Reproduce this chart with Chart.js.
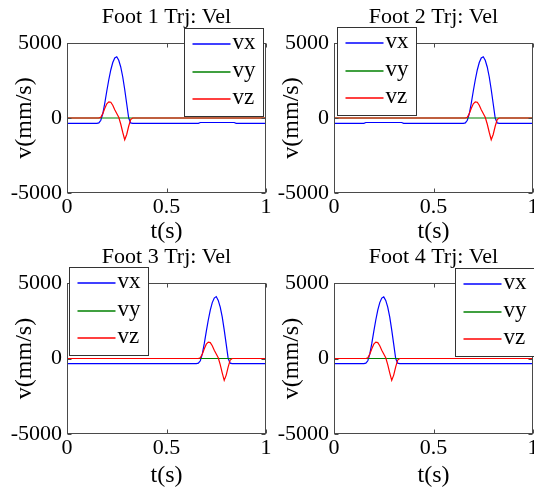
<!doctype html>
<html lang="en">

<head>
    <meta charset="UTF-8" />
    <title>Foot Trj: Vel</title>
    <script src="https://cdn.jsdelivr.net/npm/chart.js@4"></script>
    <style>
        body { margin: 0; background: #fff; }
        #wrap { position: relative; width: 534px; height: 488px; overflow: hidden; background: #fff; }
        .cell { position: absolute; width: 280px; height: 244px; }
    </style>
</head>

<body>
    <div id="wrap">
        <div class="cell" style="left:0;top:0"><canvas id="foot1" width="280" height="244"></canvas></div>
        <div class="cell" style="left:267px;top:0"><canvas id="foot2" width="280" height="244"></canvas></div>
        <div class="cell" style="left:0;top:244px"><canvas id="foot3" width="280" height="244"></canvas></div>
        <div class="cell" style="left:267px;top:244px"><canvas id="foot4" width="280" height="244"></canvas></div>
    </div>

    <script>
        /* sample times (s): swing early in the cycle (feet 1, 4) or late (feet 2, 3) */
        const tEarly = [0, 0.15, 0.16, 0.17, 0.18, 0.19, 0.2, 0.21, 0.22, 0.23, 0.24, 0.25, 0.26, 0.27, 0.28, 0.29, 0.3, 0.31, 0.32, 0.33, 0.66, 0.67, 0.84, 0.85, 1];
        const tLate = [0, 0.15, 0.16, 0.34, 0.35, 0.65, 0.66, 0.67, 0.68, 0.69, 0.7, 0.71, 0.72, 0.73, 0.74, 0.75, 0.76, 0.77, 0.78, 0.79, 0.8, 0.81, 0.82, 0.83, 1];

        /* velocities (mm/s) */
        const vx1 = [-360, -360, -330, -150, 300, 1000, 1800, 2550, 3200, 3700, 4000, 4080, 3850, 3400, 2750, 1900, 950, 0, -330, -360, -360, -300, -300, -360, -360];
        const vy1 = [0, 0, 0, 0, 0, 0, 0, 0, 0, 0, 0, 0, 0, 0, 0, 0, 0, 0, 0, 0, 0, 0, 0, 0, 0];
        const vz1 = [0, 0, 0, 50, 300, 650, 950, 1080, 1050, 850, 550, 300, 50, -400, -950, -1450, -1100, -550, -100, 0, 0, 0, 0, 0, 0];

        const vx2 = [-360, -360, -300, -300, -360, -360, -330, -150, 300, 1000, 1800, 2550, 3200, 3700, 4000, 4080, 3850, 3400, 2750, 1900, 950, 0, -330, -360, -360];
        const vy2 = [0, 0, 0, 0, 0, 0, 0, 0, 0, 0, 0, 0, 0, 0, 0, 0, 0, 0, 0, 0, 0, 0, 0, 0, 0];
        const vz2 = [0, 0, 0, 0, 0, 0, 0, 50, 300, 650, 950, 1080, 1050, 850, 550, 300, 50, -400, -950, -1450, -1100, -550, -100, 0, 0];

        const vx3 = [-340, -340, -340, -340, -340, -340, -310, -150, 300, 1000, 1800, 2550, 3200, 3700, 4000, 4100, 3850, 3400, 2750, 1900, 950, 0, -310, -340, -340];
        const vy3 = [0, 0, 0, 0, 0, 0, 0, 0, 0, 0, 0, 0, 0, 0, 0, 0, 0, 0, 0, 0, 0, 0, 0, 0, 0];
        const vz3 = [0, 0, 0, 0, 0, 0, 0, 50, 300, 650, 950, 1080, 1050, 850, 550, 300, 50, -400, -950, -1450, -1100, -550, -100, 0, 0];

        const vx4 = [-340, -340, -310, -150, 300, 1000, 1800, 2550, 3200, 3700, 4000, 4080, 3850, 3400, 2750, 1900, 950, 0, -310, -340, -340, -340, -340, -340, -340];
        const vy4 = [0, 0, 0, 0, 0, 0, 0, 0, 0, 0, 0, 0, 0, 0, 0, 0, 0, 0, 0, 0, 0, 0, 0, 0, 0];
        const vz4 = [0, 0, 0, 50, 300, 650, 950, 1080, 1050, 850, 550, 300, 50, -400, -950, -1450, -1100, -550, -100, 0, 0, 0, 0, 0, 0];

        const seriesNames = ['vx', 'vy', 'vz'];
        const seriesColors = ['#0000ff', '#008000', '#ff0000'];
        const xTicks = [0, 0.5, 1];
        const yTicks = [-5000, 0, 5000];

        const serif = "'Liberation Serif', 'Times New Roman', serif";

        /* matlab style box, inward ticks and legend drawn over the axes */
        const matlabBox = {
            id: 'matlabBox',
            afterDraw(chart, args, opts) {
                const c = chart.ctx;
                const a = chart.chartArea;
                const xs = chart.scales.x, ys = chart.scales.y;
                const L = Math.round(a.left) + 0.5, R = Math.round(a.right) - 0.5;
                const T = Math.round(a.top) + 0.5, B = Math.round(a.bottom) - 0.5;
                c.save();
                c.strokeStyle = '#4a4a4a';
                c.lineWidth = 1;
                c.strokeRect(L, T, R - L, B - T);
                c.beginPath();
                xTicks.forEach(v => {
                    const px = Math.round(xs.getPixelForValue(v)) + 0.5;
                    c.moveTo(px, B); c.lineTo(px, B - 4);
                    c.moveTo(px, T); c.lineTo(px, T + 4);
                });
                yTicks.forEach(v => {
                    const py = Math.round(ys.getPixelForValue(v)) + 0.5;
                    c.moveTo(L, py); c.lineTo(L + 4, py);
                    c.moveTo(R, py); c.lineTo(R - 4, py);
                });
                c.stroke();

                /* legend */
                const w = 79, h = 88;
                const bx = Math.round(opts.side === 'right' ? a.right + opts.dx - w : a.left + opts.dx) + 0.5;
                const by = Math.round(a.top + opts.dy) + 0.5;
                c.fillStyle = '#fff';
                c.fillRect(bx, by, w, h);
                c.strokeStyle = '#333';
                c.strokeRect(bx, by, w, h);
                c.font = '23px ' + serif;
                c.textBaseline = 'middle';
                c.textAlign = 'left';
                const rows = [15, 43, 70];
                chart.data.datasets.forEach((ds, i) => {
                    const y = Math.round(by + rows[i]);
                    c.strokeStyle = seriesColors[i];
                    c.lineWidth = 1.4;
                    c.beginPath();
                    c.moveTo(bx + 8, y);
                    c.lineTo(bx + 46, y);
                    c.stroke();
                    c.fillStyle = '#000';
                    c.fillText(ds.label, bx + 48, y - 1);
                });
                c.restore();
            }
        };

        function makeChart(id, title, t, vx, vy, vz, legendAt, topRow) {
            const vals = [vx, vy, vz];
            const datasets = seriesNames.map((name, i) => ({
                label: name,
                data: t.map((x, k) => ({ x: x, y: vals[i][k] })),
                borderColor: seriesColors[i],
                order: 2 - i
            }));
            return new Chart(document.getElementById(id), {
                type: 'line',
                data: { datasets: datasets },
                options: {
                    responsive: false,
                    animation: false,
                    devicePixelRatio: 1,
                    elements: {
                        point: { radius: 0 },
                        line: { borderWidth: 1.2, tension: 0 }
                    },
                    layout: { padding: { left: 0, right: 14, top: 0, bottom: 0 } },
                    plugins: {
                        legend: { display: false },
                        tooltip: { enabled: false },
                        title: {
                            display: true,
                            text: title,
                            fullSize: false,
                            color: '#000',
                            font: { family: serif, size: 22, weight: 'normal', lineHeight: 1.2 },
                            padding: { top: topRow ? 4 : 0, bottom: 12.6 }
                        },
                        matlabBox: legendAt
                    },
                    scales: {
                        x: {
                            type: 'linear',
                            min: 0,
                            max: 1,
                            afterBuildTicks: s => { s.ticks = xTicks.map(v => ({ value: v })); },
                            ticks: {
                                color: '#000',
                                padding: 1,
                                maxRotation: 0,
                                font: { family: serif, size: 22 },
                                callback: v => String(v)
                            },
                            grid: { display: false, drawTicks: false },
                            border: { display: false },
                            title: {
                                display: true,
                                text: 't(s)',
                                color: '#000',
                                font: { family: serif, size: 24, lineHeight: 1 },
                                padding: 0
                            },
                            afterFit: s => { s.height = topRow ? 51 : 54; }
                        },
                        y: {
                            type: 'linear',
                            min: -5000,
                            max: 5000,
                            afterBuildTicks: s => { s.ticks = yTicks.map(v => ({ value: v })); },
                            ticks: {
                                color: '#000',
                                padding: 5,
                                font: { family: serif, size: 22 },
                                callback: v => String(v)
                            },
                            grid: { display: false, drawTicks: false },
                            border: { display: false },
                            title: {
                                display: true,
                                text: 'v(mm/s)',
                                color: '#000',
                                font: { family: serif, size: 24, lineHeight: 1 },
                                padding: { top: 13, bottom: 0 }
                            },
                            afterFit: s => { s.width = 67; }
                        }
                    }
                },
                plugins: [matlabBox]
            });
        }

        makeChart('foot1', 'Foot 1 Trj: Vel', tEarly, vx1, vy1, vz1, { side: 'right', dx: -3, dy: -15 }, true);
        makeChart('foot2', 'Foot 2 Trj: Vel', tLate, vx2, vy2, vz2, { side: 'left', dx: 3, dy: -16 }, true);
        makeChart('foot3', 'Foot 3 Trj: Vel', tLate, vx3, vy3, vz3, { side: 'left', dx: 2, dy: -16 }, false);
        makeChart('foot4', 'Foot 4 Trj: Vel', tEarly, vx4, vy4, vz4, { side: 'right', dx: 1, dy: -15 }, false);
    </script>
</body>

</html>
